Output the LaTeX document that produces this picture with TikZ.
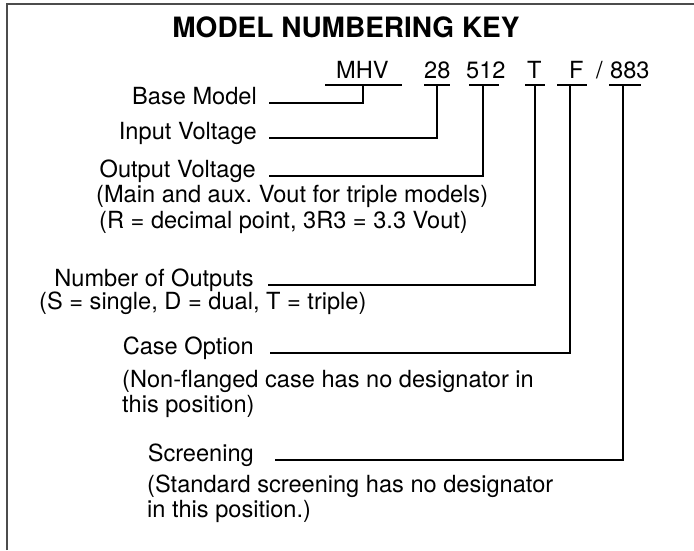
\documentclass[tikz,border=0pt]{standalone}
\usepackage{fontspec}
\setmainfont{TeX Gyre Heros}
\frenchspacing
\begin{document}
\begin{tikzpicture}[x=1pt,y=-1pt,
  lbl/.style={inner sep=0pt,anchor=base east,font=\fontsize{23.6}{28}\selectfont},
  desc/.style={inner sep=0pt,anchor=base west,font=\fontsize{23.6}{28}\selectfont},
  code/.style={inner sep=0pt,anchor=base west,font=\fontsize{23.6}{28}\selectfont},
  uline/.style={line width=2.6pt},
  conn/.style={line width=2.6pt},
  frame/.style={line width=1.5pt,draw=black!70}]
\useasboundingbox (0,0) rectangle (694,550);
\draw[frame] (7,550) -- (7,4) -- (694,4);
\node[inner sep=0pt,anchor=base,font=\fontsize{28}{33}\selectfont\bfseries] (title) at (346,37) {MODEL NUMBERING KEY};
% code
\node[code] (mhv) at (336,78) {MHV};
\node[code] (c28) at (424,78) {28};
\node[code] (c512) at (466,78) {512};
\node[code] (cT) at (527,78) {T};
\node[code] (cF) at (569,78) {F};
\node[code] (slash) at (596,78) {/};
\node[code] (c883) at (610,78) {883};
% underlines and taps
\coordinate (u1a) at (325,85); \coordinate (u1b) at (402,85); \coordinate (t1) at (363,85);
\coordinate (u2a) at (424,85); \coordinate (u2b) at (450,85); \coordinate (t2) at (437,85);
\coordinate (u3a) at (469,85); \coordinate (u3b) at (499,85); \coordinate (t3) at (483,85);
\coordinate (u4a) at (525,85); \coordinate (u4b) at (545,85); \coordinate (t4) at (535,85);
\coordinate (u5a) at (557,85); \coordinate (u5b) at (587,85); \coordinate (t5) at (570,85);
\coordinate (u6a) at (609,85); \coordinate (u6b) at (641,85); \coordinate (t6) at (623,85);
\foreach \i in {1,...,6} \draw[uline] (u\i a) -- (u\i b);
% labels
\node[lbl] (bm) at (257,104) {Base Model};
\node[lbl] (iv) at (257,139) {Input Voltage};
\node[lbl] (ov) at (256,177) {Output Voltage};
\node[desc] (ov1) at (96,202) {(Main and aux. Vout for triple models)};
\node[desc] (ov2) at (99,228) {(R = decimal point, 3R3 = 3.3 Vout)};
\node[lbl] (no) at (254,286) {Number of Outputs};
\node[desc] (no1) at (39,309) {(S = single, D = dual, T = triple)};
\node[lbl] (co) at (254,354) {Case Option};
\node[desc] (co1) at (122,387) {(Non-flanged case has no designator in};
\node[desc] (co2) at (122,412) {this position)};
\node[lbl] (sc) at (254,461) {Screening};
\node[desc] (sc1) at (147,492) {(Standard screening has no designator};
\node[desc] (sc2) at (147,517) {in this position.)};
% connectors
\draw[conn] ([xshift=12pt,yshift=1pt]bm.base east) -| (t1);
\draw[conn] ([xshift=12pt,yshift=1pt]iv.base east) -| (t2);
\draw[conn] ([xshift=13pt,yshift=1pt]ov.base east) -| (t3);
\draw[conn] ([xshift=14pt,yshift=1pt]no.base east) -| (t4);
\draw[conn] ([xshift=16pt,yshift=1pt]co.base east) -| (t5);
\draw[conn] ([xshift=21pt,yshift=1pt]sc.base east) -| (t6);
\end{tikzpicture}
\end{document}
